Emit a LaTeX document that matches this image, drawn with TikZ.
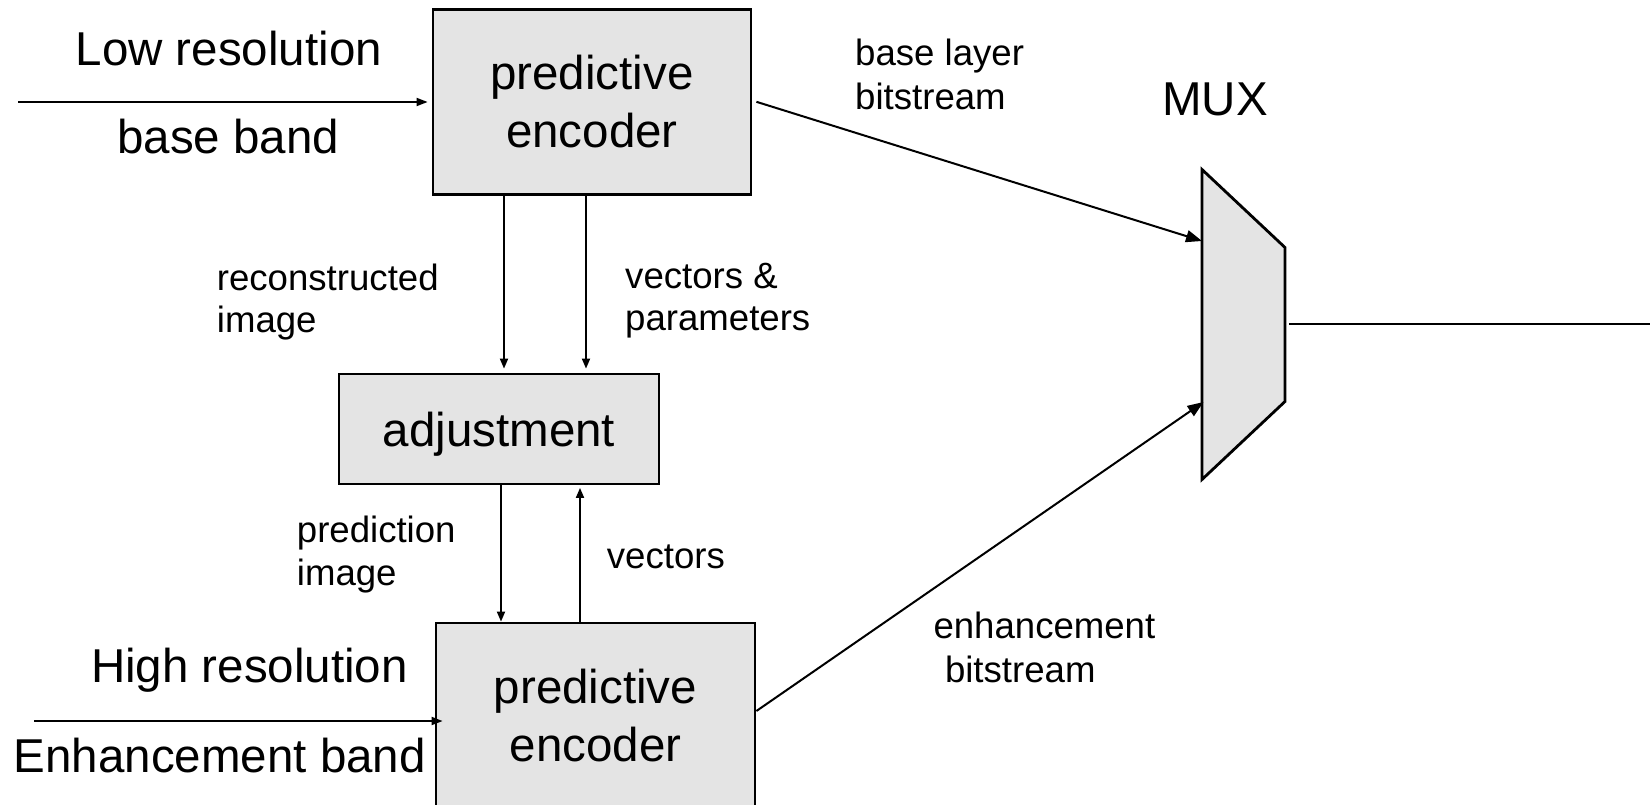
\documentclass[tikz,border=0pt]{standalone}
\usepackage{fontspec}
\setmainfont{Liberation Sans}
\usetikzlibrary{arrows.meta}
\definecolor{boxgray}{RGB}{228,228,228}
\begin{document}
\begin{tikzpicture}[x=1bp,y=-1bp,
  bigfont/.style={font=\fontsize{47.5bp}{58bp}\selectfont},
  smallfont/.style={font=\fontsize{36.6bp}{41bp}\selectfont},
  blockbox/.style={draw=black,line width=2.8bp,fill=boxgray,bigfont,align=center,inner sep=0pt},
  lbl/.style={inner sep=0pt,anchor=base west,align=left},
  arr/.style={line width=1.8bp,-{Triangle[length=10bp,width=8bp]}},
  muxarr/.style={line width=2bp,-{Triangle[length=16bp,width=12bp]}}]
\useasboundingbox (0,0) rectangle (1650,805);

% encoder and adjustment blocks
\node[blockbox,minimum width=318bp,minimum height=185bp] (pe1) at (592,101.8) {predictive\\encoder};
\node[blockbox,minimum width=320bp,minimum height=110bp,text depth=0pt] (adj) at (499,429) {adjustment};
\node[blockbox,minimum width=319bp,minimum height=185bp] (pe2) at (595.5,715.5) {predictive\\encoder};

% multiplexer
\coordinate (mA) at (1202,169.5);
\coordinate (mB) at (1285,247.5);
\coordinate (mC) at (1285,401.5);
\coordinate (mD) at (1202,479.5);
\draw[line width=2.8bp,fill=boxgray,line join=miter] (mA) -- (mB) -- (mC) -- (mD) -- cycle;
\coordinate (muxinA) at (1202,241);
\coordinate (muxinB) at (1203.5,402);
\coordinate (muxout) at (1289,324);
\coordinate (outend) at (1650,324);
\node[lbl,bigfont] (muxlbl) at (1162,115) {MUX};

% inputs
\coordinate (in1) at (18,102);
\coordinate (in2) at (34,721);
\draw[arr,-{Triangle[length=11bp,width=8bp]},shorten >=4bp] (in1) -- (pe1.west |- in1);
\draw[arr,-{Triangle[length=11bp,width=8bp]},shorten >=-8bp] (in2) -- (pe2.west |- in2);

% vertical links
\coordinate (xa) at (504,0);
\coordinate (xb) at (586,0);
\coordinate (xc) at (501,0);
\coordinate (xd) at (580,0);
\draw[arr,shorten >=4bp] (pe1.south -| xa) -- (adj.north -| xa);
\draw[arr,shorten >=4bp] (pe1.south -| xb) -- (adj.north -| xb);
\draw[arr] (adj.south -| xc) -- (pe2.north -| xc);
\draw[arr,shorten >=2.5bp] (pe2.north -| xd) -- (adj.south -| xd);

% bitstreams into the multiplexer and its output
\draw[muxarr] ([xshift=4bp]pe1.east) -- (muxinA);
\draw[muxarr] ([yshift=4.5bp]pe2.east) -- (muxinB);
\draw[line width=2.8bp] (muxout) -- (outend);

% labels (multi-line nodes are placed by the baseline of their last line)
\node[lbl,bigfont] (t1) at (75.5,65.5) {Low resolution};
\node[lbl,bigfont] (t2) at (117,153.3) {base band};
\node[lbl,bigfont] (t3) at (90.8,682) {High resolution};
\node[lbl,bigfont] (t4) at (13.7,772) {Enhancement band};
\node[lbl,font=\fontsize{36.6bp}{44bp}\selectfont] (l1) at (855,109.5) {base layer\\bitstream};
\node[lbl,font=\fontsize{36.6bp}{42bp}\selectfont] (l2) at (216.7,332) {reconstructed\\image};
\node[lbl,font=\fontsize{36.6bp}{42bp}\selectfont] (l3) at (625,330) {vectors \&\\parameters};
\node[lbl,font=\fontsize{36.6bp}{43bp}\selectfont] (l4) at (296.7,585) {prediction\\image};
\node[lbl,smallfont] (l5) at (606.7,568.5) {vectors};
\node[lbl,font=\fontsize{36.6bp}{44.3bp}\selectfont] (l6) at (933.3,682.5) {enhancement\\\hspace*{11.5bp}bitstream};
\end{tikzpicture}
\end{document}
